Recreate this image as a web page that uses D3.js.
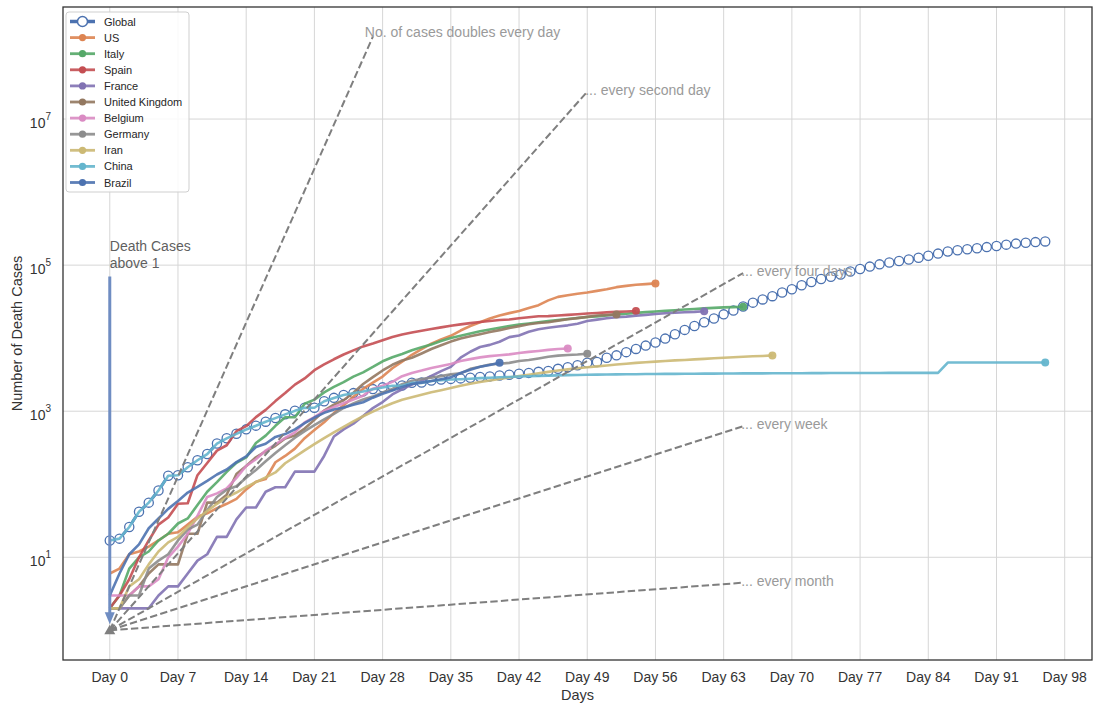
<!DOCTYPE html>
<html>
<head>
<meta charset="utf-8">
<script src="https://cdn.jsdelivr.net/npm/d3@7"></script>
<style>
  body { margin: 0; background: #fff; }
  svg { display: block; }
  text { font-family: "Liberation Sans", Arial, Helvetica, sans-serif; }
</style>
</head>
<body>
<svg id="chart" width="1097" height="704"></svg>
<script>
// Cumulative death counts, counted from the first day with more than one death
const seriesNames = ["Global", "US", "Italy", "Spain", "France", "United Kingdom",
                     "Belgium", "Germany", "Iran", "China", "Brazil"];
const seriesColors = ["#4c72b0", "#dd8452", "#55a868", "#c44e52", "#8172b3", "#937860",
                      "#da8bc3", "#8c8c8c", "#ccb974", "#64b5cd", "#4c72b0"];

const globalDeaths = [17, 18, 26, 42, 56, 82, 131, 133, 171, 213, 259, 362, 426, 492, 564, 634,
  719, 806, 906, 1013, 1113, 1118, 1371, 1523, 1666, 1770, 1868, 2007, 2122, 2247, 2251, 2458,
  2469, 2629, 2708, 2770, 2814, 2872, 2941, 2996, 3085, 3160, 3254, 3348, 3460, 3558, 3803, 3996,
  4262, 4615, 4720, 5404, 5819, 6440, 7126, 7905, 8733, 9867, 11299, 12973, 14651, 16505, 18625,
  21181, 23970, 27198, 30652, 33925, 37582, 42107, 46809, 52983, 58787, 64606, 69374, 74565,
  81865, 88338, 95455, 102525, 108503, 114091, 119481, 125983, 134176, 143800, 153822, 159510,
  165069, 169986, 176583, 183066, 190858, 197159, 202868, 206544, 211206];
const usDeaths = [6, 7, 11, 12, 14, 17, 21, 22, 28, 36, 40, 47, 54, 63, 85, 108, 118, 200, 244,
  307, 427, 552, 706, 942, 1209, 1581, 2026, 2467, 2978, 3873, 4757, 5926, 7087, 8407, 9619,
  10783, 12722, 14695, 16478, 18586, 20463, 22020, 23529, 25832, 28325, 32916, 36773, 38664,
  40661, 42094, 44444, 46622, 49954, 51949, 53755, 54881, 56259];
const italyDeaths = [2, 3, 7, 10, 12, 17, 21, 29, 34, 52, 79, 107, 148, 197, 233, 366, 463, 631,
  827, 827, 1266, 1441, 1809, 2158, 2503, 2978, 3405, 4032, 4825, 5476, 6077, 6820, 7503, 8215,
  9134, 10023, 10779, 11591, 12428, 13155, 13915, 14681, 15362, 15887, 16523, 17127, 17669,
  18279, 18849, 19468, 19899, 20465, 21067, 21645, 22170, 22745, 23227, 23660, 24114, 24648,
  25085, 25549, 25969, 26384, 26644, 26977];
const spainDeaths = [2, 3, 5, 10, 17, 28, 35, 54, 55, 133, 195, 289, 342, 533, 623, 830, 1043,
  1375, 1772, 2311, 2808, 3647, 4365, 5138, 5982, 6803, 7716, 8464, 9387, 10348, 11198, 11947,
  12641, 13341, 14045, 14792, 15447, 16081, 16606, 17209, 17756, 18056, 18708, 19315, 20002,
  20043, 20453, 20852, 21282, 21717, 22157, 22524, 22902, 23190, 23521];
const franceDeaths = [2, 2, 2, 2, 2, 3, 4, 4, 6, 9, 11, 19, 19, 33, 48, 48, 79, 91, 91, 149, 149,
  149, 244, 451, 563, 676, 862, 1102, 1333, 1698, 1997, 2317, 2611, 3030, 3532, 4043, 5398, 6520,
  7574, 8093, 8926, 10343, 10887, 12228, 13215, 13851, 14412, 14986, 15748, 17188, 17941, 18703,
  19345, 19744, 20292, 20829, 21373, 21889, 22278, 22648, 22890, 23327];
const ukDeaths = [2, 2, 3, 4, 6, 8, 8, 8, 21, 21, 56, 56, 72, 138, 178, 234, 282, 336, 423, 466,
  580, 761, 1021, 1231, 1411, 1793, 2357, 2926, 3611, 4320, 4943, 5385, 6171, 7111, 7993, 8974,
  9892, 10629, 11347, 12129, 12894, 13759, 14607, 15498, 16095, 16550, 17378, 18151, 18791,
  19567, 20426, 20794, 21157];
const belgiumDeaths = [3, 3, 3, 4, 4, 5, 10, 14, 21, 37, 67, 75, 88, 122, 178, 220, 289, 353, 431,
  513, 705, 828, 1011, 1143, 1283, 1447, 1632, 2035, 2240, 2523, 3019, 3346, 3600, 3903, 4157,
  4440, 4857, 5163, 5453, 5683, 5828, 5998, 6262, 6490, 6679, 6917, 7094, 7207];
const germanyDeaths = [2, 2, 3, 3, 7, 9, 11, 17, 24, 28, 44, 67, 84, 94, 123, 157, 206, 267, 342,
  433, 533, 645, 775, 920, 1107, 1275, 1444, 1584, 1810, 2016, 2349, 2607, 2767, 2871, 3022,
  3194, 3294, 3804, 4052, 4352, 4459, 4586, 4862, 5033, 5279, 5575, 5760, 5877, 5976, 6126];
const iranDeaths = [2, 2, 4, 5, 8, 12, 16, 19, 26, 34, 43, 54, 66, 77, 92, 107, 124, 145, 194,
  237, 291, 354, 429, 514, 611, 724, 853, 988, 1135, 1284, 1433, 1556, 1685, 1812, 1934, 2077,
  2234, 2378, 2517, 2640, 2757, 2898, 3036, 3160, 3294, 3452, 3603, 3739, 3872, 3993, 4110,
  4232, 4357, 4474, 4585, 4683, 4777, 4869, 4958, 5031, 5118, 5209, 5297, 5391, 5481, 5574,
  5650, 5710, 5806];
const chinaDeaths = [17, 18, 26, 42, 56, 82, 131, 133, 171, 213, 259, 361, 425, 490, 562, 632,
  717, 804, 904, 1011, 1111, 1116, 1368, 1520, 1662, 1765, 1863, 2002, 2114, 2236, 2236, 2441,
  2443, 2593, 2663, 2715, 2744, 2788, 2835, 2870, 2912, 2943, 2981, 3013, 3042, 3070, 3097,
  3119, 3136, 3158, 3169, 3176, 3189, 3199, 3213, 3226, 3237, 3245, 3249, 3253, 3259, 3274,
  3274, 3281, 3285, 3291, 3296, 3299, 3304, 3308, 3309, 3316, 3322, 3326, 3330, 3333, 3335,
  3337, 3339, 3340, 3343, 3343, 3345, 3345, 3346, 3346, 4636, 4636, 4636, 4636, 4636, 4636,
  4637, 4637, 4637, 4637, 4637];
const brazilDeaths = [3, 6, 11, 15, 25, 34, 46, 59, 77, 92, 111, 136, 159, 201, 240, 324, 359,
  445, 486, 564, 686, 819, 950, 1057, 1124, 1223, 1328, 1532, 1736, 1924, 2141, 2354, 2462,
  2587, 2741, 2906, 3331, 3704, 4057, 4286, 4603];

const seriesValues = [globalDeaths, usDeaths, italyDeaths, spainDeaths, franceDeaths, ukDeaths,
                      belgiumDeaths, germanyDeaths, iranDeaths, chinaDeaths, brazilDeaths];

// Axis ticks
const dayTicks = [0, 7, 14, 21, 28, 35, 42, 49, 56, 63, 70, 77, 84, 91, 98];
const dayTickLabels = dayTicks.map(d => "Day " + d);
const yTickValues = [1e1, 1e3, 1e5, 1e7];
const yTickExponents = ["1", "3", "5", "7"];

// Reference growth lines starting from one death on day 0
const doublingPeriods = [1, 2, 4, 7, 30];
const doublingEndDays = [27, 49, 65, 65, 65];
const doublingLabels = ["No. of cases doubles every day", "... every second day",
                        "... every four days", "... every week", "... every month"];

const arrowTopValue = 7e4;
const arrowLabel = ["Death Cases", "above 1"];

// ---- layout ----
const svg = d3.select("#chart");
const plot = { left: 63, right: 1092, top: 7, bottom: 660 };

const maxDay = 96;
const xPad = maxDay * 0.05;
const x = d3.scaleLinear().domain([-xPad, maxDay + xPad]).range([plot.left, plot.right]);

const logMax = Math.log10(Math.pow(2, 27));
const yPad = logMax * 0.05;
const y = d3.scaleLog().domain([Math.pow(10, -yPad), Math.pow(10, logMax + yPad)])
  .range([plot.bottom, plot.top]);

const clip = svg.append("clipPath").attr("id", "plotclip")
  .append("rect").attr("x", plot.left).attr("y", plot.top)
  .attr("width", plot.right - plot.left).attr("height", plot.bottom - plot.top);

// grid
const grid = svg.append("g");
grid.selectAll("line.vx").data(dayTicks).join("line")
  .attr("x1", d => x(d)).attr("x2", d => x(d))
  .attr("y1", plot.top).attr("y2", plot.bottom)
  .attr("stroke", "#d6d6d6").attr("stroke-width", 1);
grid.selectAll("line.hy").data(yTickValues).join("line")
  .attr("x1", plot.left).attr("x2", plot.right)
  .attr("y1", d => y(d)).attr("y2", d => y(d))
  .attr("stroke", "#d6d6d6").attr("stroke-width", 1);

const body = svg.append("g").attr("clip-path", "url(#plotclip)");

const line = d3.line().x((d, i) => x(i)).y(d => y(d));

// Global: thick line with open circle markers
body.append("path").datum(globalDeaths)
  .attr("d", line).attr("fill", "none")
  .attr("stroke", seriesColors[0]).attr("stroke-width", 3);
body.append("g").selectAll("circle").data(globalDeaths).join("circle")
  .attr("cx", (d, i) => x(i)).attr("cy", d => y(d)).attr("r", 4.6)
  .attr("fill", "#fff").attr("stroke", seriesColors[0]).attr("stroke-width", 1.3);

// Country curves, each with a dot at its latest value
seriesValues.slice(1).forEach((vals, k) => {
  const c = seriesColors[k + 1];
  body.append("path").datum(vals)
    .attr("d", line).attr("fill", "none")
    .attr("stroke", c).attr("stroke-width", 2.6)
    .attr("stroke-linejoin", "round").attr("opacity", 0.9);
  body.append("circle")
    .attr("cx", x(vals.length - 1)).attr("cy", y(vals[vals.length - 1]))
    .attr("r", 4).attr("fill", c).attr("opacity", 0.95);
});

// Doubling reference lines
doublingPeriods.forEach((p, k) => {
  const endDay = doublingEndDays[k];
  const endVal = Math.pow(2, endDay / p);
  const pts = [[0, 1], [endDay, endVal]];
  body.append("path").datum(pts)
    .attr("d", d3.line().x(d => x(d[0])).y(d => y(d[1])))
    .attr("fill", "none").attr("stroke", "#7f7f7f").attr("stroke-width", 2)
    .attr("stroke-dasharray", "7.4,3.2");
  svg.append("text")
    .attr("x", x(endDay) + (k === 0 ? -8 : -2))
    .attr("y", y(endVal) + (k === 0 ? 0 : 3))
    .attr("fill", "#9a9a9a").attr("font-size", 14)
    .text(doublingLabels[k]);
});

// Vertical arrow marking the start threshold
const ax = x(0);
const aTop = y(arrowTopValue);
const aTip = y(1) - 6;
body.append("line")
  .attr("x1", ax).attr("x2", ax).attr("y1", aTop).attr("y2", aTip - 10)
  .attr("stroke", "#6f8dc2").attr("stroke-width", 3);
body.append("path")
  .attr("d", `M${ax - 5},${aTip - 12} L${ax + 5},${aTip - 12} L${ax},${aTip} Z`)
  .attr("fill", "#6f8dc2");
const al = svg.append("text").attr("x", ax).attr("y", aTop - 25)
  .attr("fill", "#5f5f5f").attr("font-size", 14);
al.append("tspan").attr("x", ax).attr("dy", 0).text(arrowLabel[0]);
al.append("tspan").attr("x", ax).attr("dy", 16.5).text(arrowLabel[1]);

// origin marker
const oy = y(1), ox = x(0);
body.append("path")
  .attr("d", `M${ox},${oy - 5.5} L${ox + 5.5},${oy + 4} L${ox - 5.5},${oy + 4} Z`)
  .attr("fill", "#7f7f7f");

// frame
svg.append("rect")
  .attr("x", plot.left).attr("y", plot.top)
  .attr("width", plot.right - plot.left).attr("height", plot.bottom - plot.top)
  .attr("fill", "none").attr("stroke", "#333").attr("stroke-width", 1.3);

// x tick labels
svg.append("g").selectAll("text").data(dayTicks).join("text")
  .attr("x", d => x(d)).attr("y", 682)
  .attr("text-anchor", "middle").attr("font-size", 14).attr("fill", "#333")
  .text((d, i) => dayTickLabels[i]);

// y tick labels (10 with superscript exponent)
const yl = svg.append("g").selectAll("text").data(yTickValues).join("text")
  .attr("x", 51).attr("y", d => y(d) + 9)
  .attr("text-anchor", "end").attr("font-size", 14).attr("fill", "#333");
yl.append("tspan").text("10");
yl.append("tspan").attr("dy", -8).attr("font-size", 10).text((d, i) => yTickExponents[i]);

// axis titles
svg.append("text").attr("x", (plot.left + plot.right) / 2).attr("y", 700)
  .attr("text-anchor", "middle").attr("font-size", 14.5).attr("fill", "#333").text("Days");
svg.append("text")
  .attr("transform", `translate(22,${(plot.top + plot.bottom) / 2}) rotate(-90)`)
  .attr("text-anchor", "middle").attr("font-size", 14.5).attr("fill", "#333")
  .text("Number of Death Cases");

// legend
const lg = svg.append("g");
lg.append("rect").attr("x", 66).attr("y", 12).attr("width", 123).attr("height", 180)
  .attr("rx", 3).attr("fill", "#fff").attr("fill-opacity", 0.85)
  .attr("stroke", "#cfcfcf").attr("stroke-width", 1);
seriesNames.forEach((name, i) => {
  const ly = 21.5 + i * 16.1;
  const c = seriesColors[i];
  lg.append("line").attr("x1", 70).attr("x2", 95).attr("y1", ly).attr("y2", ly)
    .attr("stroke", c).attr("stroke-width", i === 0 ? 3.5 : 2.8).attr("opacity", i === 0 ? 1 : 0.9);
  if (i === 0) {
    lg.append("circle").attr("cx", 82.5).attr("cy", ly).attr("r", 5)
      .attr("fill", "#fff").attr("stroke", c).attr("stroke-width", 1.5);
  } else {
    lg.append("circle").attr("cx", 82.5).attr("cy", ly).attr("r", 3.6).attr("fill", c);
  }
  lg.append("text").attr("x", 104).attr("y", ly + 4)
    .attr("font-size", 11).attr("fill", "#262626").text(name);
});
</script>
</body>
</html>
